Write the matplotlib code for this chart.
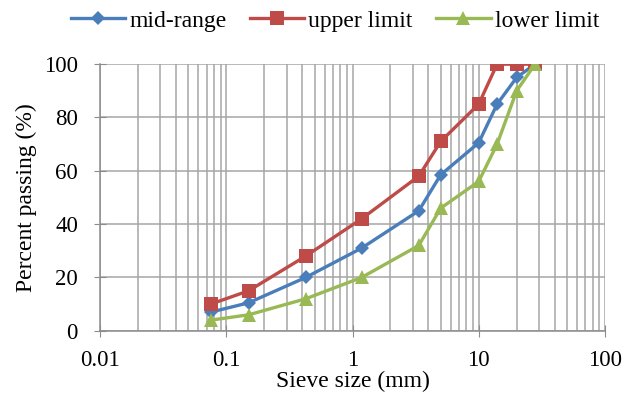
"""Gradation curves: mid-range, upper and lower limits versus sieve size."""

import matplotlib

matplotlib.use("Agg")
import matplotlib.pyplot as plt
from matplotlib.ticker import FixedLocator, LogLocator, NullFormatter

SIEVE_MM = [0.075, 0.15, 0.425, 1.18, 3.35, 5, 10, 14, 20, 28]
MID_RANGE = [7, 10.5, 20, 31, 45, 58.5, 70.5, 85, 95, 100]
UPPER_LIMIT = [10, 15, 28, 42, 58, 71, 85, 100, 100, 100]
LOWER_LIMIT = [4, 6, 12, 20, 32, 46, 56, 70, 90, 100]

X_TICKS = [0.01, 0.1, 1, 10, 100]
X_TICK_LABELS = ["0.01", "0.1", "1", "10", "100"]
Y_TICKS = [0, 20, 40, 60, 80, 100]

GRID = "#a6a6a6"
AXIS = "#8c8c8c"


def main() -> None:
    plt.rcParams.update(
        {
            "font.family": "serif",
            "font.serif": ["Liberation Serif", "DejaVu Serif"],
            "font.size": 16.5,
        }
    )

    fig = plt.figure(figsize=(6.34, 4.01), dpi=100)
    ax = fig.add_axes([0.158, 0.175, 0.796, 0.665])

    series = [
        ("mid-range", MID_RANGE, "#4a7ebb", "D", 7.5),
        ("upper limit", UPPER_LIMIT, "#be4b48", "s", 10.5),
        ("lower limit", LOWER_LIMIT, "#98b954", "^", 10.5),
    ]
    for label, values, color, marker, ms in series:
        ax.plot(
            SIEVE_MM,
            values,
            label=label,
            color=color,
            marker=marker,
            markersize=ms,
            linewidth=2.4,
            markeredgewidth=0,
            zorder=3,
        )

    ax.set_xscale("log")
    ax.set_xlim(0.01, 100)
    ax.set_ylim(0, 100)
    ax.xaxis.set_major_locator(FixedLocator(X_TICKS))
    ax.set_xticklabels(X_TICK_LABELS)
    ax.xaxis.set_minor_locator(LogLocator(base=10, subs=range(2, 10)))
    ax.xaxis.set_minor_formatter(NullFormatter())
    ax.set_yticks(Y_TICKS)

    ax.grid(True, which="both", axis="x", color=GRID, linewidth=1.1)
    ax.grid(True, which="major", axis="y", color=GRID, linewidth=1.1)
    ax.set_axisbelow(True)

    for side in ["top", "right"]:
        ax.spines[side].set_visible(False)
    for side in ["left", "bottom"]:
        ax.spines[side].set_color(AXIS)
        ax.spines[side].set_linewidth(1.1)
    ax.tick_params(axis="both", which="major", direction="inout", length=8,
                   color=AXIS, labelsize=16.5)
    ax.tick_params(axis="x", which="major", pad=10)
    ax.tick_params(axis="y", which="major", pad=12)
    ax.tick_params(axis="x", which="minor", length=0)

    ax.set_xlabel("Sieve size (mm)", fontsize=17, labelpad=0)
    ax.set_ylabel("Percent passing (%)", fontsize=17, labelpad=5)

    ax.legend(
        loc="center",
        bbox_to_anchor=(0.465, 1.162),
        ncol=3,
        frameon=False,
        fontsize=17,
        handlelength=2.3,
        handletextpad=0.17,
        columnspacing=1.0,
        borderaxespad=0.0,
        borderpad=0.0,
    )

    fig.savefig("out.png", dpi=100)
    plt.close(fig)


if __name__ == "__main__":
    main()
